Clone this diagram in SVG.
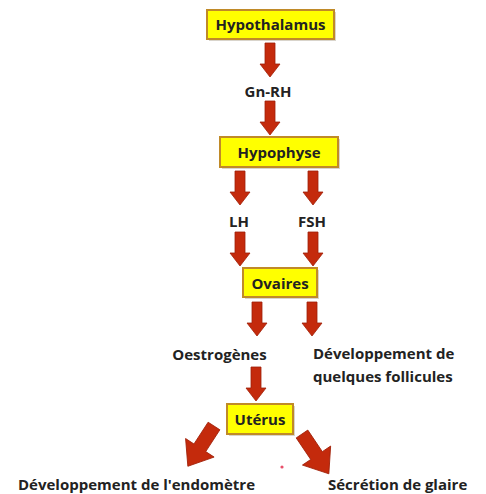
<svg xmlns="http://www.w3.org/2000/svg" width="486" height="494" viewBox="0 0 486 494">
  <defs>
    <style>
      .box { fill: #ffff00; stroke: #c08a28; stroke-width: 2; }
      .shadow { fill: #b9b0a0; opacity: 0.55; }
      .t { font-family: "Open Sans", "Liberation Sans", sans-serif; font-weight: 700; font-size: 15px; fill: #222222; }
      .c { text-anchor: middle; }
      .arrow { fill: #c42a0c; stroke: #a02008; stroke-width: 0.8; }
    </style>
    <path id="arr" d="M-5,0 H5 V21 H10 L0,34 L-10,21 H-5 Z"/>
    <path id="big" d="M-7,0 H7 V26 H17 L0,48 L-17,26 H-7 Z"/>
  </defs>

  <g id="connectors" class="arrow">
    <use href="#arr" x="270" y="43"/>
    <use href="#arr" x="270" y="101"/>
    <use href="#arr" x="240" y="171"/>
    <use href="#arr" x="313" y="171"/>
    <use href="#arr" x="240" y="232"/>
    <use href="#arr" x="313" y="232"/>
    <use href="#arr" x="257" y="302"/>
    <use href="#arr" x="312" y="302"/>
    <use href="#arr" x="256" y="367"/>
    <use href="#big" transform="translate(214,426) rotate(33)"/>
    <use href="#big" transform="translate(302,434) rotate(-34)"/>
  </g>

  <g id="hypothalamus">
    <rect class="shadow" x="209" y="12" width="127" height="29"/>
    <rect class="box" x="207" y="10" width="127" height="29"/>
    <text class="t c" x="270.5" y="30">Hypothalamus</text>
  </g>
  <g id="gnrh">
    <text class="t c" x="268" y="97">Gn-RH</text>
  </g>
  <g id="hypophyse">
    <rect class="shadow" x="222" y="139" width="118" height="30"/>
    <rect class="box" x="220" y="137" width="118" height="30"/>
    <text class="t c" x="279" y="158">Hypophyse</text>
  </g>
  <g id="lh">
    <text class="t c" x="239" y="227">LH</text>
  </g>
  <g id="fsh">
    <text class="t c" x="312" y="227">FSH</text>
  </g>
  <g id="ovaires">
    <rect class="shadow" x="245" y="270" width="74" height="29"/>
    <rect class="box" x="243" y="268" width="74" height="29"/>
    <text class="t c" x="280" y="289">Ovaires</text>
  </g>
  <g id="oestrogenes">
    <text class="t c" x="219.5" y="360">Oestrogènes</text>
  </g>
  <g id="follicules">
    <text class="t" x="313" y="359">Développement de</text>
    <text class="t" x="313" y="382">quelques follicules</text>
  </g>
  <g id="uterus">
    <rect class="shadow" x="229" y="406" width="66" height="30"/>
    <rect class="box" x="227" y="404" width="66" height="30"/>
    <text class="t c" x="260" y="425">Utérus</text>
  </g>
  <g id="endometre">
    <text class="t" x="18" y="490">Développement de l'endomètre</text>
  </g>
  <g id="glaire">
    <text class="t" x="328" y="490">Sécrétion de glaire</text>
  </g>
  <circle cx="282" cy="467" r="1.6" fill="#e8506a"/>
</svg>
